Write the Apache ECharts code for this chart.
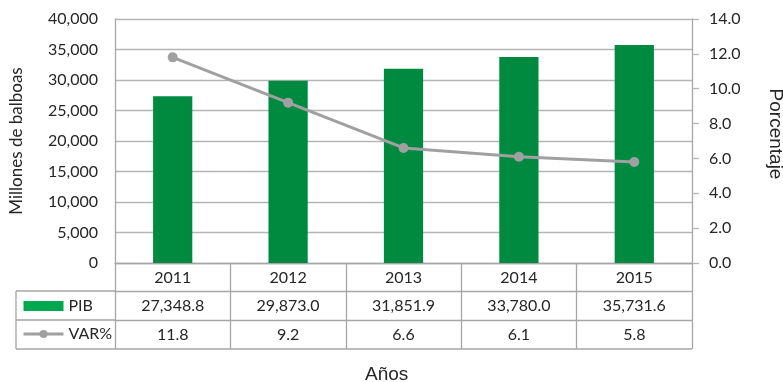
<!DOCTYPE html>
<html>
<head>
<meta charset="utf-8">
<script src="https://cdn.jsdelivr.net/npm/echarts@6/dist/echarts.min.js"></script>
<style>html,body{margin:0;padding:0;background:#fff}#c{width:783px;height:382px}</style>
</head>
<body>
<div id="c"></div>
<script>
var years = ['2011', '2012', '2013', '2014', '2015'];
var pib = [27348.8, 29873.0, 31851.9, 33780.0, 35731.6];
var varPct = [11.8, 9.2, 6.6, 6.1, 5.8];
var leftTicks = { min: 0, max: 40000, interval: 5000 };
var rightTicks = { min: 0, max: 14, interval: 2 };

function fmtThousands(v, dec) {
  var s = Number(v).toFixed(dec);
  var parts = s.split('.');
  parts[0] = parts[0].replace(/\B(?=(\d{3})+(?!\d))/g, ',');
  return parts.join('.');
}

var GRID_L = 115, GRID_R = 91, GRID_T = 19, GRID_B = 119;
var W = 783;
var lineCol = '#A6A6A6';
var txtCol = '#262626';
var F1 = 'Lato';
var F2 = 'Liberation Sans';

var chart = echarts.init(document.getElementById('c'), null, { renderer: 'canvas' });

function tableAxis(offset, formatter, tickLen) {
  return {
    type: 'category',
    data: years,
    position: 'bottom',
    offset: offset,
    axisLine: { show: true, onZero: false, lineStyle: { color: lineCol, width: 1.3 } },
    axisTick: { show: true, length: tickLen, interval: 0, lineStyle: { color: lineCol, width: 1.3 } },
    axisLabel: { show: true, margin: 7, interval: 0, fontFamily: F1, fontSize: 16, color: txtCol, formatter: formatter },
    splitLine: { show: false }
  };
}

var option = {
  animation: false,
  backgroundColor: '#fff',
  title: {
    text: 'Años', left: 360, top: 360,
    textStyle: { fontFamily: F2, fontSize: 19, fontWeight: 'normal', color: txtCol }
  },
  grid: { left: GRID_L, right: GRID_R, top: GRID_T, bottom: GRID_B, containLabel: false, outerBoundsMode: 'none' },
  legend: {
    orient: 'vertical', left: 17, top: 293, itemGap: 12,
    itemWidth: 40, itemHeight: 10,
    textStyle: { fontFamily: F1, fontSize: 16, color: txtCol },
    data: [
      { name: 'PIB', icon: 'rect', itemStyle: { color: '#00A84F' } },
      { name: 'VAR%', lineStyle: { width: 3, color: '#A0A0A0' }, itemStyle: { color: '#A0A0A0' } }
    ]
  },
  xAxis: [
    tableAxis(0, function (v) { return v; }, 28),
    tableAxis(28, function (v, i) { return fmtThousands(pib[i], 1); }, 29),
    tableAxis(57, function (v, i) { return varPct[i].toFixed(1); }, 29)
  ],
  yAxis: [
    {
      type: 'value', min: leftTicks.min, max: leftTicks.max, interval: leftTicks.interval,
      name: 'Millones de balboas', nameLocation: 'middle', nameGap: 90, nameRotate: 90,
      nameTextStyle: { fontFamily: F1, fontSize: 17, color: txtCol },
      axisLine: { show: true, lineStyle: { color: lineCol, width: 1.3 } },
      axisTick: { show: false },
      axisLabel: { margin: 17, fontFamily: F1, fontSize: 16, color: txtCol, formatter: function (v) { return fmtThousands(v, 0); } },
      splitLine: { show: true, lineStyle: { color: '#B5B5B5', width: 1.3 } }
    },
    {
      type: 'value', min: rightTicks.min, max: rightTicks.max, interval: rightTicks.interval,
      position: 'right',
      name: 'Porcentaje', nameLocation: 'middle', nameGap: 74, nameRotate: -90,
      nameTextStyle: { fontFamily: F2, fontSize: 19, color: txtCol, padding: [0, 14, 0, 0] },
      axisLine: { show: true, lineStyle: { color: lineCol, width: 1.3 } },
      axisTick: { show: true, inside: false, length: 7, lineStyle: { color: '#B5B5B5', width: 1.3 } },
      axisLabel: { margin: 17, fontFamily: F1, fontSize: 16, color: txtCol, formatter: function (v) { return v.toFixed(1); } },
      splitLine: { show: false }
    }
  ],
  series: [
    {
      name: 'PIB', type: 'bar', xAxisIndex: 0, yAxisIndex: 0, data: pib,
      barWidth: '34%',
      itemStyle: { color: '#008A40' }
    },
    {
      name: 'VAR%', type: 'line', xAxisIndex: 0, yAxisIndex: 1, data: varPct,
      symbol: 'circle', symbolSize: 10,
      lineStyle: { color: '#A0A0A0', width: 3 },
      itemStyle: { color: '#A0A0A0' }
    }
  ],
  graphic: [
    { type: 'line', shape: { x1: 16, y1: 291, x2: GRID_L, y2: 291 }, style: { stroke: lineCol, lineWidth: 1.3 } },
    { type: 'line', shape: { x1: 16, y1: 320, x2: GRID_L, y2: 320 }, style: { stroke: lineCol, lineWidth: 1.3 } },
    { type: 'line', shape: { x1: 16, y1: 349, x2: W - GRID_R, y2: 349 }, style: { stroke: lineCol, lineWidth: 1.3 } },
    { type: 'line', shape: { x1: 16, y1: 291, x2: 16, y2: 349 }, style: { stroke: lineCol, lineWidth: 1.3 } }
  ]
};
chart.setOption(option);
</script>
</body>
</html>
